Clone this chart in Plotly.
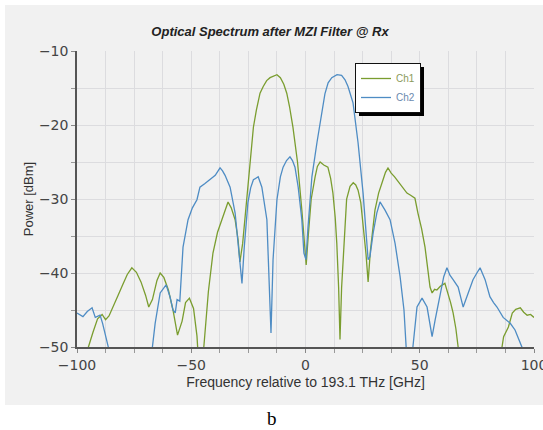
import plotly.graph_objects as go

# ---- data ----
ch1_freq = [-96.5, -95, -93, -91, -89, -87.5, -86, -84, -82, -80, -78, -76, -74, -72, -70, -68.6, -67, -65,
            -63.6, -62, -60, -58, -56, -54, -52.5, -50.8, -49, -47.5, -46, -44.5, -42.5, -40.5, -38.5, -36.6,
            -35, -33.9, -32.5, -30.8, -29.5, -28.7, -27.5, -25.6, -24, -22.8, -21.5, -19.9, -18.5, -17, -15.5,
            -14, -12.5, -11, -9.5, -8.2, -7, -5.5, -3.5, -1.6, -0.5, 0.3, 1.2, 2.5, 4.2, 5.2, 6.4, 8, 9.8, 11,
            12, 13, 13.7, 14.5, 15.1, 15.8, 17.3, 18, 19.5, 20.9, 22, 23, 24.2, 25.3, 26.5, 27.4, 28.4, 30.4,
            32, 33.5, 35, 36.1, 37.5, 39, 40, 42, 44.4, 46, 47.9, 49.2, 50.8, 52.3, 53.5, 54.5, 55.4, 56.5,
            57.5, 59, 61, 62.4, 63.5, 64.6, 65.8, 66.8, 67.5, 85.5, 86, 86.7, 88.8, 90.5, 92, 94, 95.5, 97,
            98.5, 100]
ch1_power = [-53, -50, -48, -46.2, -45.6, -46.3, -45.8, -44.5, -43, -41.6, -40.2, -39.3, -39.9, -41.2, -43,
             -44.6, -43.6, -41, -40, -40.6, -42.3, -45, -48.4, -46.5, -44, -43.4, -44.8, -48.5, -56, -50,
             -42.5, -37.3, -34.5, -32.8, -31.5, -30.4, -31.2, -32.8, -35.5, -38.5, -36, -29.2, -24.5, -20.3,
             -18, -15.7, -14.8, -14, -13.6, -13.4, -13.2, -13.6, -14.5, -15.7, -17.5, -20.3, -25, -31.5, -36,
             -38.9, -35, -30, -27, -25.6, -25, -25.4, -25.7, -27.2, -29.2, -32.5, -36, -42, -49, -42, -33.8,
             -30, -28.3, -27.8, -28.1, -28.8, -30.5, -33.8, -37.5, -41.2, -37, -31.5, -29.2, -27.8, -26.4,
             -25.8, -26.5, -27, -27.4, -28.2, -29.2, -29.5, -29.9, -31.9, -34, -36.5, -39.5, -41.9, -42.7,
             -42.2, -42.3, -41.8, -41.4, -42.7, -44, -45.4, -47.5, -50, -54, -54, -50, -48.6, -47.3, -45.4,
             -44.9, -44.7, -45.3, -45.7, -45.6, -46]

ch2_freq = [-100, -98.5, -97.4, -95.5, -93.4, -92, -89.9, -88.8, -87.7, -86.3, -85.5, -67.8, -67, -65.8,
            -63.6, -61, -59.3, -58, -57, -56.2, -55, -54.3, -53.6, -51.4, -49.5, -47.5, -46.2, -44, -41.8,
            -39.5, -37.4, -36.3, -35.2, -33, -30.8, -29.8, -29, -27.8, -26.8, -25.2, -24, -22.8, -20.7, -19.1,
            -16.9, -15.9, -15.1, -14.2, -12.5, -11, -9.8, -8.3, -6.8, -5.7, -4.6, -3.2, -1.6, -0.7, 0.2, 1.1,
            2.8, 5, 7.2, 8.5, 9.9, 11.5, 13.8, 15.8, 17.3, 18.6, 20.8, 23, 25.2, 26.5, 27.4, 28.2, 29.6, 31.2,
            32.6, 34.8, 37, 39.2, 41.4, 43.1, 44, 44.8, 46.3, 47, 48.8, 51, 53.2, 55.4, 56.7, 58.9, 60.5, 61.9,
            63.2, 64.6, 66.8, 69, 71.1, 73.3, 75, 76.4, 78.6, 80.7, 82.3, 83.8, 86.5, 89.6, 91.7, 93.3, 94.7,
            95.5]
ch2_power = [-45.4, -45.7, -45.9, -45.2, -44.7, -46, -45.7, -46.8, -48.4, -50, -54, -54, -50, -46.8, -42.7,
             -41.6, -43.2, -45, -45.4, -43.6, -43.8, -40, -36.5, -32.8, -31.2, -30.1, -28.4, -27.9, -27.4,
             -26.8, -25.8, -26.2, -26.8, -28.4, -31.9, -35, -38.2, -41.4, -36.5, -30.5, -28.5, -27.4, -27,
             -28.4, -32.8, -40.5, -48.1, -38.2, -30.1, -27, -25.7, -24.8, -24.3, -24.8, -25.7, -28.4, -32.8,
             -37.3, -38.2, -33.8, -27, -22.4, -18, -15.8, -14.3, -13.6, -13.2, -13.3, -13.9, -14.8, -17, -22.4,
             -29.2, -34.6, -38.2, -37.8, -34.6, -31.9, -30.4, -31.5, -32.8, -36, -40.5, -45, -50, -54, -54, -50,
             -44.6, -43.4, -44.6, -48.6, -46.4, -42.7, -40.5, -39.3, -40.3, -40.9, -41.9, -44.6, -42.7, -40.9,
             -40, -39.3, -40.9, -43.2, -44, -44.6, -46, -46.8, -47.7, -48.8, -50, -54]

x_tick_vals = [-100, -50, 0, 50, 100]
y_tick_vals = [-10, -20, -30, -40, -50]

GREEN = "#7a9d2f"
BLUE = "#4e8cc4"

fig = go.Figure()
fig.add_trace(go.Scatter(x=ch1_freq, y=ch1_power, mode="lines",
                         name='<span style="color:#8a9a5a">Ch1</span>',
                         line=dict(color=GREEN, width=1.3)))
fig.add_trace(go.Scatter(x=ch2_freq, y=ch2_power, mode="lines",
                         name='<span style="color:#6a8aae">Ch2</span>',
                         line=dict(color=BLUE, width=1.3)))

W, H = 543, 430
L, R, T, B = 77, 9, 51, 83
pw, ph = W - L - R, H - T - B


def px2paper_x(px):
    return (px - L) / pw


def px2paper_y(py):
    return (H - B - py) / ph


# grey panel behind the chart
fig.add_shape(type="rect", xref="paper", yref="paper", layer="below",
              x0=px2paper_x(5), x1=px2paper_x(543), y0=px2paper_y(405), y1=px2paper_y(5),
              fillcolor="#f1f1f1", line=dict(width=0))
# legend shadow
fig.add_shape(type="rect", xref="paper", yref="paper", layer="above",
              x0=px2paper_x(359), x1=px2paper_x(424), y0=px2paper_y(116), y1=px2paper_y(67),
              fillcolor="#000000", line=dict(width=0))

axis_font = dict(family="DejaVu Sans, Liberation Sans, sans-serif", size=14, color="#444444")

fig.update_layout(
    width=W, height=H,
    margin=dict(l=L, r=R, t=T, b=B),
    paper_bgcolor="white",
    plot_bgcolor="#f3f3f6",
    showlegend=True,
    title=dict(text="<b><i>Optical Spectrum after MZI Filter @ Rx</i></b>",
               x=(270) / W, xanchor="center", y=1 - 31 / H, yanchor="middle",
               font=dict(family="Liberation Sans, Arial, sans-serif", size=13, color="#222222")),
    legend=dict(x=px2paper_x(355), y=px2paper_y(63), xanchor="left", yanchor="top",
                bgcolor="white", bordercolor="#111111", borderwidth=1,
                font=dict(family="Liberation Sans, Arial, sans-serif", size=10),
                itemwidth=30, tracegroupgap=0),
    xaxis=dict(range=[-100, 100], tickvals=x_tick_vals, ticktext=[str(v).replace("-", "\u2212") for v in x_tick_vals],
               showgrid=True, gridcolor="#dcdcdf", gridwidth=1, zeroline=False,
               showline=True, linecolor="#555555", linewidth=1.5, automargin=False,
               ticks="outside", ticklen=4, tickcolor="#888888", ticklabeloverflow="allow",
               minor=dict(dtick=12.5, tick0=0, showgrid=True, gridcolor="#dcdcdf", ticks="outside",
                          ticklen=4, tickcolor="#999999"),
               tickfont=axis_font,
               title=dict(text="Frequency relative to 193.1 THz [GHz]", standoff=6,
                          font=dict(family="Liberation Sans, Arial, sans-serif", size=14, color="#333333"))),
    yaxis=dict(range=[-50, -10], tickvals=y_tick_vals, ticktext=[str(v).replace("-", "\u2212") for v in y_tick_vals],
               showgrid=True, gridcolor="#dcdcdf", gridwidth=1, zeroline=False,
               showline=True, linecolor="#555555", linewidth=1.5, automargin=False,
               ticks="outside", ticklen=4, tickcolor="#888888",
               minor=dict(dtick=5, tick0=0, showgrid=True, gridcolor="#dcdcdf", ticks="outside",
                          ticklen=4, tickcolor="#999999"),
               tickfont=axis_font,
               title=dict(text="Power [dBm]", standoff=2,
                          font=dict(family="Liberation Sans, Arial, sans-serif", size=13, color="#333333"))),
    annotations=[dict(text="b", xref="paper", yref="paper", x=px2paper_x(272), y=px2paper_y(418),
                      xanchor="center", yanchor="middle", showarrow=False,
                      font=dict(family="Liberation Serif, Times New Roman, serif", size=19, color="#000000"))],
)

fig.write_html("out.html")
